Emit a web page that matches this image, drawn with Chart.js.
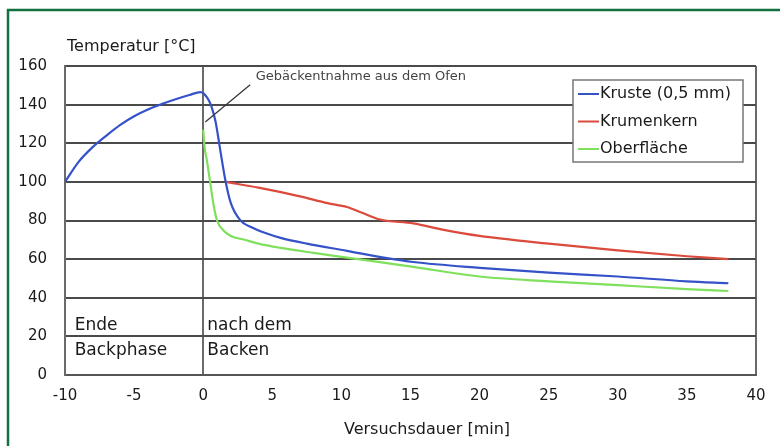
<!DOCTYPE html>
<html>
<head>
<meta charset="utf-8">
<script src="https://cdn.jsdelivr.net/npm/chart.js@4/dist/chart.umd.min.js"></script>
<style>
  html, body { margin: 0; padding: 0; background: #fff; }
</style>
</head>
<body>
<canvas id="chart" width="780" height="446"></canvas>
<script>
// Temperaturverlauf nach dem Backen
const krusteX = [-10, -9, -8, -7, -6, -5, -4, -3, -2, -1, -0.2, 0.3, 0.6, 0.9, 1.2, 1.6, 2, 2.7, 3.5, 4.5, 5.6, 7.5, 10.4, 13.3, 15.2, 20, 25, 30, 35, 38];
const krusteY = [100, 110.5, 118, 124, 129.5, 134, 137.5, 140.3, 142.8, 145, 146.5, 143.5, 139, 131, 118, 101, 89, 80, 76.5, 73.5, 71, 68, 64.3, 60.5, 58.5, 55.5, 53, 51, 48.5, 47.5];

const kernX = [1.6, 4, 7, 9, 10.4, 11.5, 12.8, 15.2, 17.5, 20, 25, 30, 35, 38];
const kernY = [100, 97, 92.5, 89, 87, 84, 80.5, 78.5, 75, 72, 68, 64.5, 61.5, 60];

const oberX = [0, 0.1, 0.27, 0.5, 0.75, 1, 1.45, 2, 3, 4, 5.6, 8, 10.4, 15.2, 20, 25, 30, 35, 38];
const oberY = [127, 118, 111, 100, 88, 80, 75, 72, 70, 68, 65.8, 63.2, 60.8, 56, 51, 48.5, 46.5, 44.5, 43.5];

const seriesLabels = ['Kruste (0,5 mm)', 'Krumenkern', 'Oberfläche'];
const seriesColors = ['#3552c8', '#dc4a3c', '#7ee05c'];

const xRange = [-10, 40];
const yRange = [0, 160];
const xLines = [-10, 0, 40]; // senkrechte Linien

const FONT = '"DejaVu Sans", sans-serif';

const toPoints = (xs, ys) => xs.map((x, i) => ({ x: x, y: ys[i] }));

// Beschriftungen, Rahmen und Legende selbst zeichnen
const extras = {
  id: 'extras',
  beforeDraw(chart) {
    const ctx = chart.ctx;
    ctx.save();
    ctx.fillStyle = '#fff';
    ctx.fillRect(0, 0, chart.width, chart.height);
    // grüner Rahmen links/oben
    ctx.strokeStyle = '#137040';
    ctx.lineWidth = 2.5;
    ctx.beginPath();
    ctx.moveTo(8, chart.height);
    ctx.lineTo(8, 10);
    ctx.lineTo(chart.width, 10);
    ctx.stroke();
    ctx.restore();
  },
  afterDraw(chart) {
    const ctx = chart.ctx;
    const xs = chart.scales.x, ys = chart.scales.y;
    const area = chart.chartArea;
    ctx.save();

    // Achsentitel
    ctx.fillStyle = '#1a1a1a';
    ctx.textBaseline = 'middle';
    ctx.textAlign = 'left';
    ctx.font = '16px ' + FONT;
    ctx.fillText('Temperatur [°C]', area.left + 2, area.top - 19);
    ctx.textAlign = 'center';
    ctx.fillText('Versuchsdauer [min]', area.left + 362, 430);

    // Hinweis Entnahme
    ctx.strokeStyle = '#333';
    ctx.lineWidth = 1.2;
    ctx.beginPath();
    ctx.moveTo(xs.getPixelForValue(3.4), ys.getPixelForValue(150.3));
    ctx.lineTo(xs.getPixelForValue(0.15), ys.getPixelForValue(131));
    ctx.stroke();
    ctx.fillStyle = '#444';
    ctx.textAlign = 'left';
    ctx.font = '13px ' + FONT;
    ctx.fillText('Gebäckentnahme aus dem Ofen', xs.getPixelForValue(3.8), ys.getPixelForValue(154.5));

    // Phasen
    ctx.fillStyle = '#1a1a1a';
    ctx.font = '17px ' + FONT;
    ctx.fillText('Ende', xs.getPixelForValue(-9.3), ys.getPixelForValue(25.8));
    ctx.fillText('Backphase', xs.getPixelForValue(-9.3), ys.getPixelForValue(12.8));
    ctx.fillText('nach dem', xs.getPixelForValue(0.3), ys.getPixelForValue(25.8));
    ctx.fillText('Backen', xs.getPixelForValue(0.3), ys.getPixelForValue(12.8));

    // Legende
    const bw = 170, bh = 82;
    const bx = area.right - 13 - bw, by = area.top + 14;
    ctx.fillStyle = '#fff';
    ctx.fillRect(bx, by, bw, bh);
    ctx.strokeStyle = '#777';
    ctx.lineWidth = 1.5;
    ctx.strokeRect(bx, by, bw, bh);
    ctx.font = '16px ' + FONT;
    chart.data.datasets.forEach((ds, i) => {
      const ry = by + 14 + i * 27.5;
      ctx.strokeStyle = ds.borderColor;
      ctx.lineWidth = 2;
      ctx.beginPath();
      ctx.moveTo(bx + 5, ry);
      ctx.lineTo(bx + 26, ry);
      ctx.stroke();
      ctx.fillStyle = '#1a1a1a';
      ctx.fillText(ds.label, bx + 27, ry);
    });
    ctx.restore();
  }
};

const datasets = [
  toPoints(krusteX, krusteY),
  toPoints(kernX, kernY),
  toPoints(oberX, oberY)
].map((pts, i) => ({
  label: seriesLabels[i],
  data: pts,
  borderColor: seriesColors[i],
  backgroundColor: seriesColors[i],
  borderWidth: 2.2,
  pointRadius: 0,
  cubicInterpolationMode: 'monotone',
  fill: false
}));

new Chart(document.getElementById('chart').getContext('2d'), {
  type: 'line',
  data: { datasets: datasets },
  options: {
    responsive: false,
    animation: false,
    layout: { padding: { left: 0, top: 66, right: 24, bottom: 0 } },
    plugins: {
      legend: { display: false },
      tooltip: { enabled: false }
    },
    scales: {
      x: {
        type: 'linear',
        min: xRange[0],
        max: xRange[1],
        afterFit(scale) { scale.height = 71; },
        ticks: {
          stepSize: 5,
          padding: 12,
          color: '#1a1a1a',
          font: { family: FONT, size: 15 }
        },
        grid: {
          drawTicks: false,
          lineWidth: 2,
          color: c => (c.tick && xLines.includes(c.tick.value)) ? '#6a6a6a' : 'rgba(0,0,0,0)'
        },
        border: { display: true, color: '#555', width: 2 }
      },
      y: {
        min: yRange[0],
        max: yRange[1],
        afterFit(scale) { scale.width = 65; },
        ticks: {
          stepSize: 20,
          padding: 18,
          color: '#1a1a1a',
          font: { family: FONT, size: 15 }
        },
        grid: {
          drawTicks: false,
          lineWidth: 2,
          color: '#4a4a4a'
        },
        border: { display: true, color: '#6a6a6a', width: 2 }
      }
    }
  },
  plugins: [extras]
});
</script>
</body>
</html>
